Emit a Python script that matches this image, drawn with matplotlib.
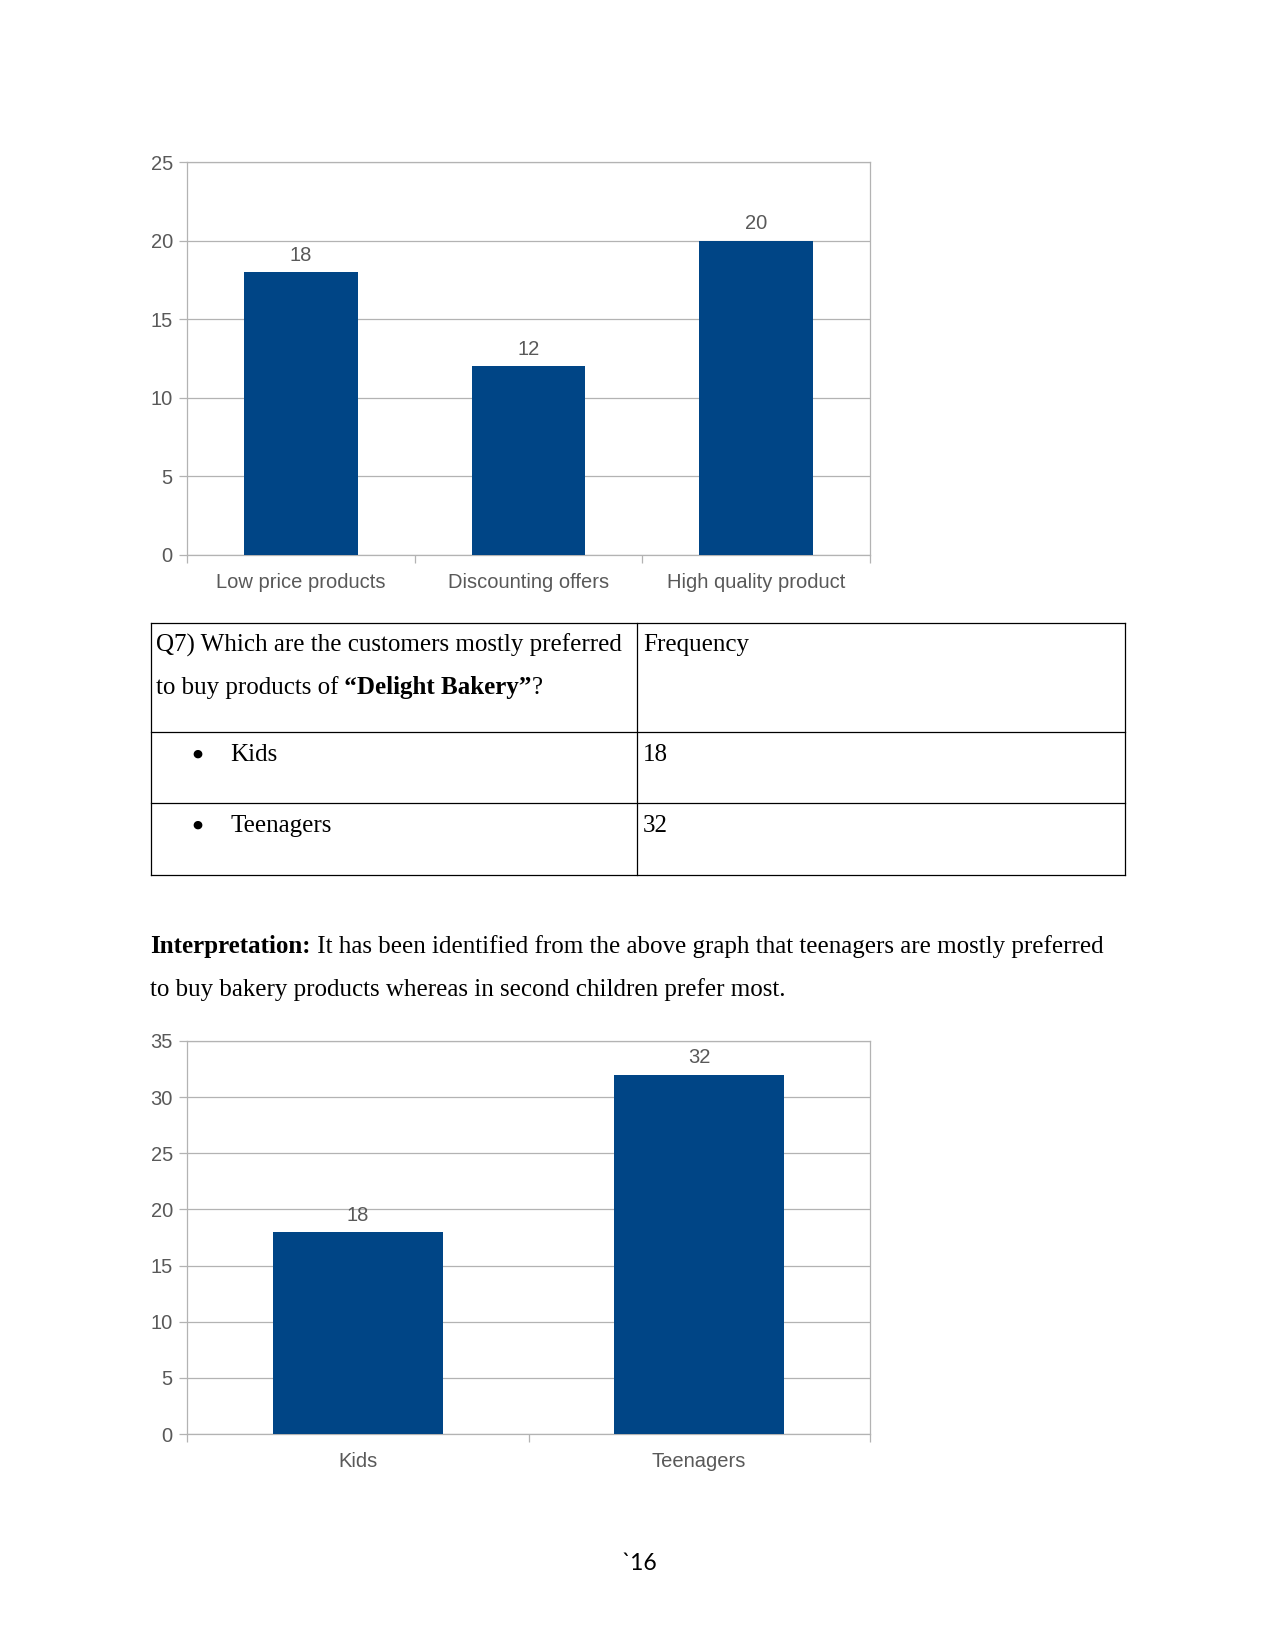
import matplotlib
matplotlib.use('Agg')
import matplotlib.pyplot as plt
import numpy as np

# data
cats1 = ['Low price products', 'Discounting offers', 'High quality product']
vals1 = [18, 12, 20]
cats2 = ['Kids', 'Teenagers']
vals2 = [18, 32]
table_head = 'Frequency'
table_rows = ['Kids', 'Teenagers']
table_freq = [18, 32]

W, H = 1275, 1651
DPI = 150
BAR = '#004586'
GRID = '#b3b3b3'
TXT = '#595959'
CFS = 9.7

fig = plt.figure(figsize=(W / DPI, H / DPI), dpi=DPI)

# page axes in pixel coordinates
page = fig.add_axes([0, 0, 1, 1])
page.set_xlim(0, W); page.set_ylim(H, 0)
page.axis('off')


def bar_chart(cats, vals, top, bottom, ymax):
    left, right = 187.4, 869.6
    ax = fig.add_axes([left / W, (H - bottom) / H, (right - left) / W, (bottom - top) / H])
    x = np.arange(len(cats))
    bars = ax.bar(x, vals, width=0.5, color=BAR, zorder=3)
    ax.bar_label(bars, padding=3.5, fontsize=CFS, color=TXT, family='Liberation Sans')
    ax.set_xlim(-0.5, len(cats) - 0.5)
    ax.set_ylim(0, ymax)
    ax.set_yticks(np.arange(0, ymax + 1, 5))
    ax.yaxis.grid(True, color=GRID, linewidth=0.6)
    ax.set_axisbelow(True)
    ax.set_xticks(x)
    ax.set_xticklabels(cats)
    ax.set_xticks(np.arange(len(cats) + 1) - 0.5, minor=True)
    ax.tick_params(axis='x', which='major', length=0, pad=8.5)
    ax.tick_params(axis='x', which='minor', length=4, width=0.6, color=GRID, direction='out')
    ax.tick_params(axis='y', length=4, width=0.6, color=GRID, direction='out', pad=3)
    for lab in ax.get_xticklabels() + ax.get_yticklabels():
        lab.set_family('Liberation Sans'); lab.set_fontsize(CFS); lab.set_color(TXT)
    for s in ax.spines.values():
        s.set_color(GRID); s.set_linewidth(0.6)
    return ax


bar_chart(cats1, vals1, 162, 555, 25)
bar_chart(cats2, vals2, 1041, 1434, 35)

# table
serif = 'Liberation Serif'
tl, tr, tm = 150.5, 1125.4, 637
rows_y = [623, 732, 803, 875]
for yy in rows_y:
    page.plot([tl, tr], [yy, yy], color='black', linewidth=0.6)
for xx in [tl, tm, tr]:
    page.plot([xx, xx], [rows_y[0], rows_y[-1]], color='black', linewidth=0.6)

fs = 12
page.text(156, 645, 'Q7) Which are the customers mostly preferred', family=serif, fontsize=fs, va='center')
t1 = page.text(156, 688, 'to buy products of', family=serif, fontsize=fs, va='center')
t2 = page.annotate(' \u201cDelight Bakery\u201d', xy=(1, 0), xycoords=t1, family=serif, fontsize=fs,
                   fontweight='bold', va='bottom', ha='left')
page.annotate('?', xy=(1, 0), xycoords=t2, family=serif, fontsize=fs, va='bottom', ha='left')
page.text(643, 645, table_head, family=serif, fontsize=fs, va='center')
for name, fq, yy in zip(table_rows, table_freq, [755, 826]):
    page.text(197, yy - 1, '\u25cf', family='DejaVu Sans', fontsize=5.5, va='center', ha='center')
    page.text(230.5, yy, name, family=serif, fontsize=fs, va='center')
    page.text(643, yy, str(fq), family=serif, fontsize=fs, va='center')

# interpretation
i1 = page.text(150.5, 946, 'Interpretation:', family=serif, fontsize=fs, fontweight='bold', va='center')
page.annotate(' It has been identified from the above graph that teenagers are mostly preferred',
              xy=(1, 0), xycoords=i1, family=serif, fontsize=fs, va='bottom', ha='left')
page.text(150.5, 990, 'to buy bakery products whereas in second children prefer most.',
          family=serif, fontsize=fs, va='center')

# page number
page.text(639, 1563, '`16', family='Lato', fontsize=11, va='center', ha='center')

fig.savefig('out.png', dpi=DPI)
